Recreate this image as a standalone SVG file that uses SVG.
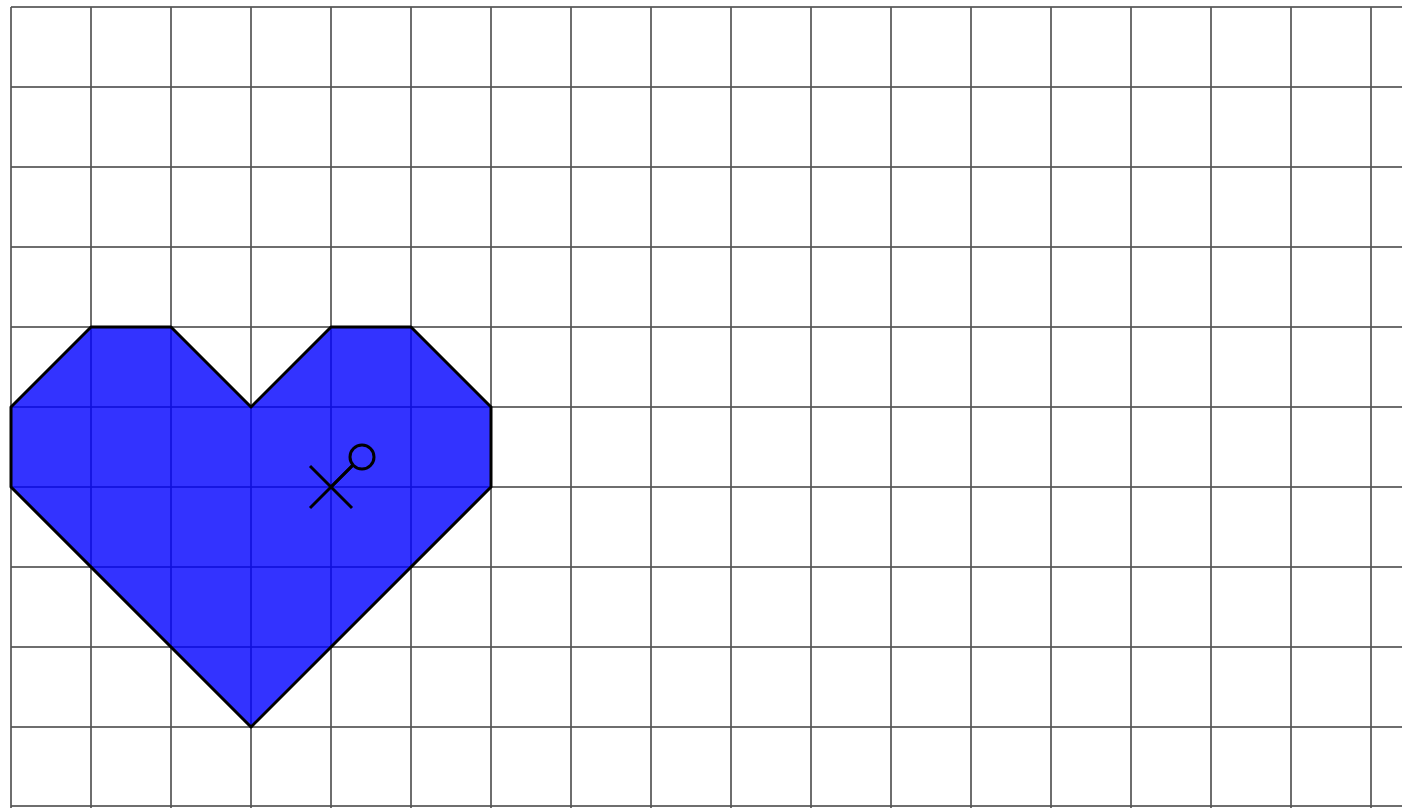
<svg xmlns="http://www.w3.org/2000/svg" width="1402" height="808" viewBox="0 0 1402 808">
<defs>
<style>
.grid line{stroke:#555;stroke-width:2;stroke-opacity:0.85}
.heart{fill:#0000ff;fill-opacity:0.8;stroke:#000;stroke-width:3;stroke-linejoin:round}
.mark{stroke:#000;stroke-width:3;fill:none}
</style>
</defs>
<rect width="1402" height="808" fill="#fff"/>
<g id="grid" class="grid">
<line x1="11" y1="7" x2="11" y2="808"/>
<line x1="91" y1="7" x2="91" y2="808"/>
<line x1="171" y1="7" x2="171" y2="808"/>
<line x1="251" y1="7" x2="251" y2="808"/>
<line x1="331" y1="7" x2="331" y2="808"/>
<line x1="411" y1="7" x2="411" y2="808"/>
<line x1="491" y1="7" x2="491" y2="808"/>
<line x1="571" y1="7" x2="571" y2="808"/>
<line x1="651" y1="7" x2="651" y2="808"/>
<line x1="731" y1="7" x2="731" y2="808"/>
<line x1="811" y1="7" x2="811" y2="808"/>
<line x1="891" y1="7" x2="891" y2="808"/>
<line x1="971" y1="7" x2="971" y2="808"/>
<line x1="1051" y1="7" x2="1051" y2="808"/>
<line x1="1131" y1="7" x2="1131" y2="808"/>
<line x1="1211" y1="7" x2="1211" y2="808"/>
<line x1="1291" y1="7" x2="1291" y2="808"/>
<line x1="1371" y1="7" x2="1371" y2="808"/>
<line x1="11" y1="7" x2="1402" y2="7"/>
<line x1="11" y1="87" x2="1402" y2="87"/>
<line x1="11" y1="167" x2="1402" y2="167"/>
<line x1="11" y1="247" x2="1402" y2="247"/>
<line x1="11" y1="327" x2="1402" y2="327"/>
<line x1="11" y1="407" x2="1402" y2="407"/>
<line x1="11" y1="487" x2="1402" y2="487"/>
<line x1="11" y1="567" x2="1402" y2="567"/>
<line x1="11" y1="647" x2="1402" y2="647"/>
<line x1="11" y1="727" x2="1402" y2="727"/>
<line x1="11" y1="806" x2="1402" y2="806"/>
</g>
<g id="heart">
<polygon class="heart" points="11,407 91,327 171,327 251,407 331,327 411,327 491,407 491,487 251,727 11,487"/>
</g>
<g id="marker">
<line class="mark" x1="310" y1="466" x2="352" y2="508"/>
<line class="mark" x1="310" y1="508" x2="352" y2="466"/>
<line class="mark" x1="331" y1="487" x2="353" y2="465"/>
<circle class="mark" cx="362" cy="457" r="12"/>
</g>
</svg>
